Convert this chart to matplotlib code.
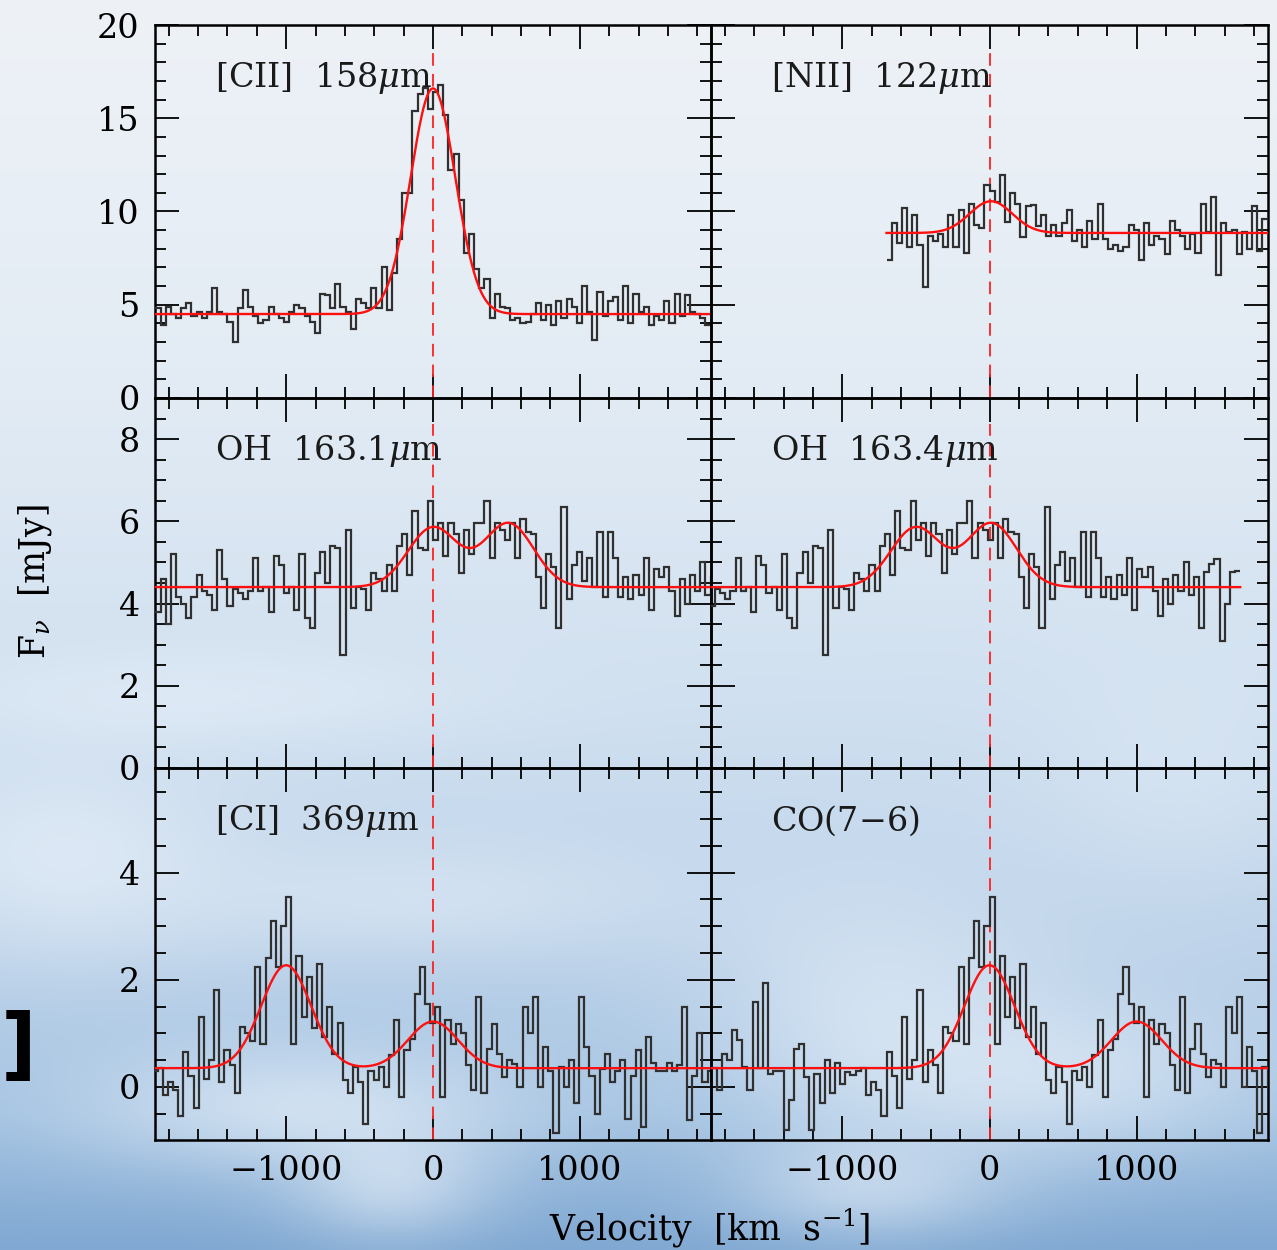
import numpy as np
import matplotlib
matplotlib.use("Agg")
import matplotlib.pyplot as plt
from matplotlib.ticker import MultipleLocator

plt.rcParams['font.family'] = ['DejaVu Serif']
plt.rcParams['mathtext.fontset'] = 'dejavuserif'

# ---------------------------------------------------------------- data
CHAN = 35.0  # channel width [km/s]

# [CII] 158um, first channel edge at -1890 km/s
cii_v0 = -1890.0
cii_flux = [4.8, 3.9, 4.9, 4.5, 4.3, 4.8, 5.1, 4.4, 4.6, 4.3, 4.6, 5.9,
            4.6, 4.5, 4.1, 3.0, 4.8, 5.8, 4.9, 4.4, 4.0, 4.2, 4.9, 4.5,
            4.3, 4.1, 4.6, 5.0, 4.8, 4.4, 4.1, 3.5, 5.6, 5.5, 4.8, 6.1,
            4.9, 4.6, 3.7, 5.3, 5.1, 4.8, 5.9, 4.8, 7.0, 4.7, 6.7, 8.5,
            11.0, 11.0, 15.4, 16.3, 16.6, 15.5, 16.4, 16.8, 15.2, 12.2, 13.1, 10.6,
            7.8, 8.8, 6.9, 5.9, 6.4, 4.3, 5.6, 4.9, 4.8, 4.2, 4.3, 4.0,
            4.1, 4.5, 5.1, 4.2, 5.0, 3.9, 5.2, 4.3, 5.3, 4.9, 4.0, 6.0,
            4.6, 3.1, 5.7, 4.4, 5.2, 5.4, 4.2, 6.0, 4.0, 5.6, 4.6, 4.9,
            3.9, 4.4, 4.2, 5.2, 4.0, 5.6, 4.4, 5.5, 4.6, 4.5, 4.3, 3.9]

# [NII] 122um, first channel edge at -700 km/s
nii_v0 = -700.0
nii_flux = [7.4, 9.4, 8.3, 10.2, 8.1, 9.8, 8.2, 5.95, 8.7, 8.4, 8.8, 8.1,
            9.8, 8.1, 10.1, 7.8, 10.4, 9.3, 9.1, 11.4, 11.1, 10.5, 11.95, 9.45,
            11.0, 10.4, 8.65, 10.3, 10.35, 9.2, 9.8, 8.7, 9.3, 8.7, 9.4, 10.1,
            8.4, 9.0, 8.1, 9.5, 8.5, 10.4, 8.5, 8.0, 8.2, 7.9, 8.1, 9.3,
            9.0, 7.4, 9.4, 8.2, 8.7, 8.5, 7.7, 9.5, 9.0, 8.7, 8.0, 8.8,
            7.8, 10.4, 8.9, 10.8, 6.6, 9.4, 8.9, 9.0, 7.7, 8.9, 8.0, 10.3,
            7.9, 9.6]

# OH doublet spectrum, velocities relative to the 163.1um component
oh_v0 = -1890.0
oh_flux = [3.8, 4.6, 3.5, 5.2, 4.15, 4.0, 3.65, 4.15, 4.7, 4.3, 4.2, 3.85,
           5.3, 4.6, 3.95, 4.35, 4.25, 4.1, 4.3, 5.1, 4.3, 4.4, 3.8, 5.15,
           4.95, 4.25, 4.4, 3.85, 5.2, 3.65, 3.4, 4.75, 5.25, 4.5, 5.4, 5.35,
           2.75, 5.8, 3.9, 4.4, 4.35, 3.85, 4.75, 4.6, 4.3, 4.95, 4.3, 5.4,
           5.7, 4.7, 6.25, 5.35, 5.3, 6.5, 5.55, 5.95, 5.15, 5.95, 5.7, 4.75,
           5.8, 5.2, 5.95, 5.95, 6.5, 5.1, 5.95, 5.8, 5.55, 5.95, 5.1, 6.05,
           5.75, 5.7, 4.65, 3.9, 5.2, 4.9, 3.4, 6.35, 4.1, 4.95, 5.25, 4.55,
           5.1, 4.4, 5.75, 4.15, 5.75, 5.1, 4.15, 4.65, 4.1, 4.7, 4.2, 5.1,
           3.85, 4.85, 4.65, 4.9, 4.3, 3.7, 4.6, 4.0, 4.7, 4.3, 5.0, 4.2,
           4.64, 3.4, 4.76, 4.97, 5.08, 3.1, 4.0, 4.76, 4.8]
oh_shift = -501.0  # offset to the 163.4um rest frame

# [CI] 369um / CO(7-6) spectrum, velocities relative to [CI]
ci_v0 = -2890.0
ci_flux = [0.35, -0.05, 0.62, 0.5, 1.06, 0.87, 0.37, -0.06, 1.59, 0.35, 1.93, 0.25,
           0.3, 0.3, -0.8, -0.24, 0.7, 0.81, 0.19, -0.8, 0.25, -0.3, 0.5, -0.12,
           0.45, 0.05, 0.28, 0.22,
           0.3, 0.35, -0.15, 0.1, -0.06, -0.55, 0.66, 0.2, -0.4, 1.3, 0.14, 0.5,
           1.8, 0.1, 0.68, 0.4, -0.12, 1.12, 1.0, 0.85, 2.24, 0.81, 2.4, 3.1,
           2.24, 3.0, 3.54, 0.81, 2.45, 1.3, 2.05, 1.1, 2.3, 0.93, 1.49, 0.62,
           1.2, 0.13, -0.12, 0.37, 0.1, -0.7, 0.3, 0.13, 0.37, 0.0, 0.6, 1.24,
           -0.18, 0.68, 0.9, 1.74, 2.24, 1.55, 1.2, 1.49, -0.18, 1.24, 0.8, 1.18,
           1.0, 0.4, -0.05, 1.68, -0.12, 0.7, 1.18, 0.62, 0.19, 0.5, 0.43, 0.0,
           1.49, 1.0, 1.68, 0.0, 0.74, 0.3, -0.86, 0.37, 0.0, 0.5, -0.3, 1.68,
           0.74, 0.2, -0.5, 0.33, 0.62, 0.1, 0.3, 0.5, -0.6, 0.2, 0.68, -0.74,
           0.93, 0.45, 0.3, 0.3, 0.45, 0.3, 0.4, 1.49, -0.62, 0.2, 1.0, 0.1, 0.3]
co_shift = 1000.0  # offset to the CO(7-6) rest frame

# Gaussian fits: continuum, then (amplitude, centre, sigma) per component
cii_cont, cii_comps = 4.5, [(12.1, 0.0, 152.0)]
nii_cont, nii_comps = 8.85, [(1.7, 10.0, 145.0)]
oh_cont, oh_comps = 4.4, [(1.45, 0.0, 170.0), (1.55, 515.0, 170.0)]
ci_cont, ci_comps = 0.35, [(1.92, -1000.0, 170.0), (0.87, 0.0, 170.0)]

labels = [r"[CII]  158$\mu$m", r"[NII]  122$\mu$m",
          r"OH  163.1$\mu$m", r"OH  163.4$\mu$m",
          r"[CI]  369$\mu$m", r"CO(7$-$6)"]

row_ylim = [(0, 20), (0, 9), (-0.99, 5.95)]
row_major = [5, 2, 2]
row_minor = [1, 0.5, 0.5]
XLIM = (-1893, 1893)

# ---------------------------------------------------------------- figure
W, H = 1277, 1250
fig = plt.figure(figsize=(W / 100, H / 100), dpi=100)

# sky-blue backdrop
ny, nx = 250, 256
yy, xx = np.mgrid[0:ny, 0:nx]
yp = yy / (ny - 1) * H
xp = xx / (nx - 1) * W
stops_y = [0, 400, 700, 950, 1120, 1250]
stops_c = np.array([[238, 242, 247], [226, 235, 244], [208, 224, 240],
                    [188, 210, 233], [160, 192, 224], [128, 168, 210]]) / 255.0
img = np.zeros((ny, nx, 3))
for c in range(3):
    img[..., c] = np.interp(yp, stops_y, stops_c[:, c])
blobs = [(300, 1110, 160, 45, 0.55), (880, 1020, 120, 90, 0.45),
         (1060, 1080, 150, 60, 0.5), (60, 860, 120, 70, 0.5),
         (420, 900, 180, 40, 0.35), (200, 700, 200, 35, 0.35),
         (1180, 780, 100, 80, 0.25), (390, 1185, 70, 40, 0.5),
         (870, 1190, 90, 35, 0.45)]
for bx, by, sx, sy, a in blobs:
    g = a * np.exp(-0.5 * (((xp - bx) / sx) ** 2 + ((yp - by) / sy) ** 2))
    img = img * (1 - g[..., None]) + g[..., None] * np.array([0.95, 0.97, 0.99])
bg = fig.add_axes([0, 0, 1, 1], zorder=-10)
bg.imshow(img, extent=[0, 1, 0, 1], aspect='auto', origin='upper', interpolation='bicubic')
bg.axis('off')

x_edges_px = [155, 711, 1268]
y_edges_px = [25, 398, 768, 1140]


def gauss_model(v, cont, comps, shift=0.0):
    out = np.full_like(v, cont, dtype=float)
    for amp, cen, sig in comps:
        out += amp * np.exp(-0.5 * ((v - (cen + shift)) / sig) ** 2)
    return out


panels = [
    (cii_v0, cii_flux, 0.0, cii_cont, cii_comps),
    (nii_v0, nii_flux, 0.0, nii_cont, nii_comps),
    (oh_v0, oh_flux, 0.0, oh_cont, oh_comps),
    (oh_v0, oh_flux, oh_shift, oh_cont, oh_comps),
    (ci_v0, ci_flux, 0.0, ci_cont, ci_comps),
    (ci_v0, ci_flux, co_shift, ci_cont, ci_comps),
]

FS = 24

for i, (v0, flux, shift, cont, comps) in enumerate(panels):
    row, col = divmod(i, 2)
    x0 = x_edges_px[col] / W
    x1 = x_edges_px[col + 1] / W
    y0 = 1 - y_edges_px[row + 1] / H
    y1 = 1 - y_edges_px[row] / H
    ax = fig.add_axes([x0, y0, x1 - x0, y1 - y0])
    ax.set_facecolor('none')

    flux = np.asarray(flux, dtype=float)
    edges = v0 + shift + CHAN * np.arange(len(flux) + 1)
    ax.stairs(flux, edges, baseline=None, color='#303030', lw=1.6, zorder=3)

    vfit = np.linspace(max(edges[0], XLIM[0]), min(edges[-1], XLIM[1]), 1200)
    ax.plot(vfit, gauss_model(vfit, cont, comps, shift), color='#ff1010', lw=1.7, zorder=4)

    ax.axvline(0, ymin=0, ymax=0.93, color='#ff2020', lw=1.3, dashes=(7, 4.5), zorder=2)

    ax.set_xlim(*XLIM)
    ax.set_ylim(*row_ylim[row])
    ax.xaxis.set_major_locator(MultipleLocator(1000))
    ax.xaxis.set_minor_locator(MultipleLocator(200))
    ax.yaxis.set_major_locator(MultipleLocator(row_major[row]))
    ax.yaxis.set_minor_locator(MultipleLocator(row_minor[row]))
    ax.tick_params(which='both', direction='in', top=True, right=True,
                   width=1.3, labelsize=FS, pad=11, colors='black')
    ax.tick_params(which='major', length=17)
    ax.tick_params(which='minor', length=8)
    for s in ax.spines.values():
        s.set_linewidth(1.8)
        s.set_color('black')
    if col == 1:
        ax.tick_params(labelleft=False)
    if row < 2:
        ax.tick_params(labelbottom=False)

    ax.text(0.108, 0.858, labels[i], transform=ax.transAxes, fontsize=FS,
            ha='left', va='center', color='#1a1a1a', zorder=5)

fig.text(35 / W, 1 - 582 / H, r"F$_\nu$  [mJy]", rotation=90, fontsize=FS + 1,
         ha='center', va='center')
fig.text(710 / W, 1 - 1228 / H, r"Velocity  [km  s$^{-1}$]", fontsize=FS + 1,
         ha='center', va='center')
fig.text(0.5 / W, 1 - 1048 / H, "]", fontsize=56, fontweight='bold',
         ha='left', va='center', family='DejaVu Sans')

fig.savefig("out.png", dpi=100)
